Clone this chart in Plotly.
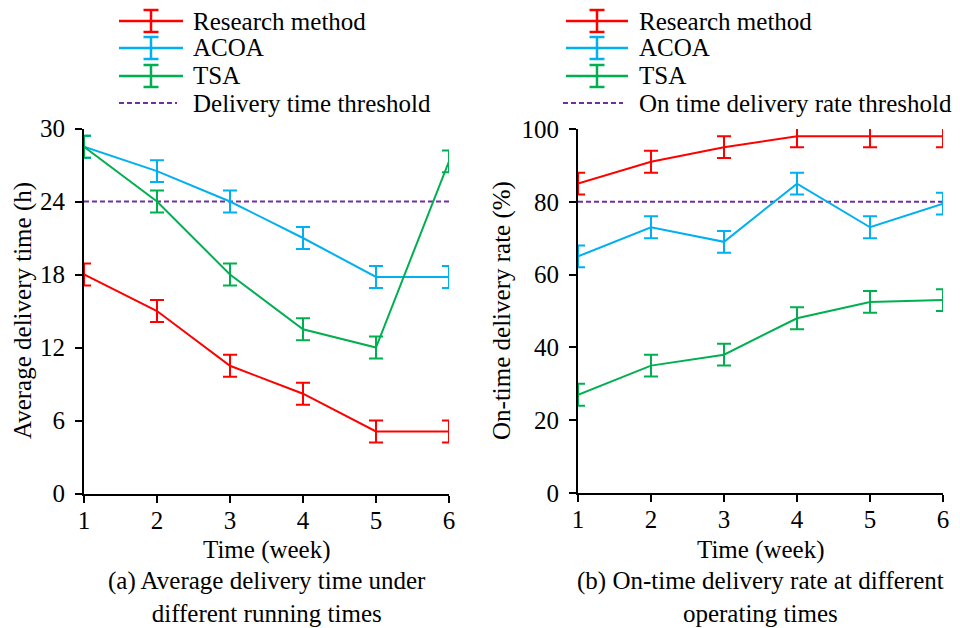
import plotly.graph_objects as go

# ---------------- data ----------------
weeks = [1, 2, 3, 4, 5, 6]

time_research = [18.0, 15.0, 10.5, 8.2, 5.1, 5.1]
time_acoa = [28.5, 26.5, 24.0, 21.0, 17.8, 17.8]
time_tsa = [28.5, 24.0, 18.0, 13.5, 12.0, 27.3]
time_err_research = [0.9, 0.9, 0.9, 0.9, 0.9, 0.9]
time_err_acoa = [0.9, 0.9, 0.9, 0.9, 0.9, 0.9]
time_err_tsa = [0.9, 0.9, 0.9, 0.9, 0.9, 0.9]
time_threshold = 24

rate_research = [85, 91, 95, 98, 98, 98]
rate_acoa = [65, 73, 69, 85, 73, 79.5]
rate_tsa = [27, 35, 38, 48, 52.5, 53]
rate_err_research = [3, 3, 3, 3, 3, 3]
rate_err_acoa = [3, 3, 3, 3, 3, 3]
rate_err_tsa = [3, 3, 3, 3, 3, 3]
rate_threshold = 80

series_names = ["Research method", "ACOA", "TSA"]
threshold_names = ["Delivery time threshold", "On time delivery rate threshold"]
x_title = "Time (week)"
y_titles = ["Average delivery time (h)", "On-time delivery rate (%)"]
captions = ["(a) Average delivery time under<br>different running times",
            "(b) On-time delivery rate at different<br>operating times"]
time_ticks = [0, 6, 12, 18, 24, 30]
rate_ticks = [0, 20, 40, 60, 80, 100]

# ---------------- style ----------------
colors = ["#FF0000", "#00B0F0", "#00B050"]
thr_color = "#7030A0"
FONT = "Liberation Serif"
FS = 25
W, H = 960, 628


def px(x):
    return x / W


def py(y):
    return 1 - y / H


fig = go.Figure()

panels = [
    dict(xa="x", ya="y", vals=[time_research, time_acoa, time_tsa],
         errs=[time_err_research, time_err_acoa, time_err_tsa], thr=time_threshold),
    dict(xa="x2", ya="y2", vals=[rate_research, rate_acoa, rate_tsa],
         errs=[rate_err_research, rate_err_acoa, rate_err_tsa], thr=rate_threshold),
]

for p in panels:
    fig.add_trace(go.Scatter(
        x=[weeks[0], weeks[-1]], y=[p["thr"], p["thr"]], mode="lines",
        line=dict(color=thr_color, width=2, dash="5px,3px"),
        xaxis=p["xa"], yaxis=p["ya"], showlegend=False, hoverinfo="skip",
        cliponaxis=False))
    for vals, errs, c in zip(p["vals"], p["errs"], colors):
        fig.add_trace(go.Scatter(
            x=weeks, y=vals, mode="lines",
            line=dict(color=c, width=2),
            error_y=dict(type="data", array=errs, visible=True, color=c,
                         thickness=2, width=7),
            xaxis=p["xa"], yaxis=p["ya"], showlegend=False, cliponaxis=False))

axis_common = dict(showgrid=False, zeroline=False, showline=True, linecolor="black",
                   linewidth=2, ticks="outside", ticklen=7, tickwidth=2, tickcolor="black",
                   automargin=False,
                   tickfont=dict(family=FONT, size=FS, color="black"))

fig.update_layout(
    template="none",
    width=W, height=H, margin=dict(l=0, r=0, t=0, b=0, pad=0, autoexpand=False),
    paper_bgcolor="white", plot_bgcolor="white", showlegend=False,
    xaxis=dict(domain=[px(84), px(449)], range=[1, 6], tickvals=weeks,
               anchor="y", ticklabelstandoff=-4, **axis_common),
    yaxis=dict(domain=[py(493.5), py(128.5)], range=[0, 30], tickvals=time_ticks,
               anchor="x", ticklabelstandoff=5, **axis_common),
    xaxis2=dict(domain=[px(578), px(943)], range=[1, 6], tickvals=weeks,
                anchor="y2", ticklabelstandoff=-4, **axis_common),
    yaxis2=dict(domain=[py(493), py(129)], range=[0, 100], tickvals=rate_ticks,
                anchor="x2", ticklabelstandoff=5, **axis_common),
)

shapes = []
annotations = []

# Custom legends
legend_cfg = [
    dict(l0=119, l1=183, eb=151, d0=119, d1=177, tx=191, name_thr=threshold_names[0]),
    dict(l0=566, l1=628, eb=597, d0=563, d1=623, tx=637, name_thr=threshold_names[1]),
]
rows = [21, 48, 76, 103]
for lc in legend_cfg:
    for i, (name, c) in enumerate(zip(series_names, colors)):
        yr = rows[i]
        shapes.append(dict(type="line", xref="paper", yref="paper",
                           x0=px(lc["l0"]), x1=px(lc["l1"]), y0=py(yr), y1=py(yr),
                           line=dict(color=c, width=2.5)))
        shapes.append(dict(type="line", xref="paper", yref="paper",
                           x0=px(lc["eb"]), x1=px(lc["eb"]), y0=py(yr - 11), y1=py(yr + 11),
                           line=dict(color=c, width=2.5)))
        for dy in (-11, 11):
            shapes.append(dict(type="line", xref="paper", yref="paper",
                               x0=px(lc["eb"] - 7.5), x1=px(lc["eb"] + 7.5),
                               y0=py(yr + dy), y1=py(yr + dy),
                               line=dict(color=c, width=2.5)))
        annotations.append(dict(text=name, xref="paper", yref="paper",
                                x=px(lc["tx"]), y=py(yr), xanchor="left", yanchor="middle",
                                showarrow=False, font=dict(family=FONT, size=FS, color="black")))
    yr = rows[3]
    shapes.append(dict(type="line", xref="paper", yref="paper",
                       x0=px(lc["d0"]), x1=px(lc["d1"]), y0=py(yr), y1=py(yr),
                       line=dict(color=thr_color, width=2, dash="5px,3px")))
    annotations.append(dict(text=lc["name_thr"], xref="paper", yref="paper",
                            x=px(lc["tx"]), y=py(yr), xanchor="left", yanchor="middle",
                            showarrow=False, font=dict(family=FONT, size=FS, color="black")))

# Axis titles & captions
centers = [266.5, 760.5]
ytitle_x = [23, 502]
for k in range(2):
    annotations.append(dict(text=x_title, xref="paper", yref="paper",
                            x=px(centers[k]), y=py(550), xanchor="center", yanchor="middle",
                            showarrow=False, font=dict(family=FONT, size=FS, color="black")))
    annotations.append(dict(text=captions[k], xref="paper", yref="paper",
                            x=px(centers[k]), y=py(597), xanchor="center", yanchor="middle",
                            showarrow=False, align="center",
                            font=dict(family=FONT, size=FS, color="black")))
    annotations.append(dict(text=y_titles[k], xref="paper", yref="paper",
                            x=px(ytitle_x[k]), y=py(311), xanchor="center", yanchor="middle",
                            textangle=-90, showarrow=False,
                            font=dict(family=FONT, size=FS, color="black")))

fig.update_layout(shapes=shapes, annotations=annotations)
fig.write_html("out.html")
